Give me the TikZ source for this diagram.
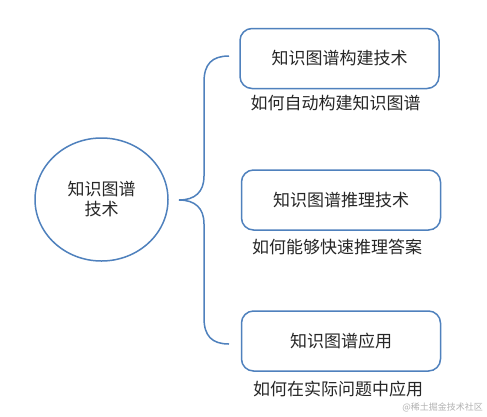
\documentclass[tikz,border=0pt]{standalone}
\usepackage{fontspec}
\usetikzlibrary{shapes.geometric}
\newfontfamily\cjk{Noto Sans CJK SC}
\definecolor{bl}{HTML}{4F81BD}
\definecolor{tx}{HTML}{262626}
\begin{document}
\begin{tikzpicture}[x=1pt,y=-1pt,
  box/.style={draw=bl,line width=1.5pt,rounded corners=12pt,minimum width=199pt,minimum height=60pt,inner sep=0pt,font=\cjk\fontsize{17}{19}\selectfont,text=tx},
  lab/.style={font=\cjk\fontsize{17}{19}\selectfont,text=tx,inner sep=0pt},
  brace/.style={draw=bl,line width=1.5pt}]
\useasboundingbox (0,0) rectangle (487,416);
\fill[white] (0,0) rectangle (487,416);
\node[ellipse,draw=bl,line width=1.5pt,minimum width=133pt,minimum height=123pt,align=center,font=\cjk\fontsize{17}{20}\selectfont,text=tx,inner sep=0pt] (c) at (101.5,199.5) {知识图谱\\技术};
\node[box] (b1) at (339.5,58.5) {知识图谱构建技术};
\node[box] (b2) at (341,200) {知识图谱推理技术};
\node[box] (b3) at (341,341) {知识图谱应用};
\node[lab] (l1) at (335.5,103) {如何自动构建知识图谱};
\node[lab] (l2) at (337,247) {如何能够快速推理答案};
\node[lab] (l3) at (338,389) {如何在实际问题中应用};
\coordinate (t1) at (229,56);
\coordinate (tip) at (179,200);
\coordinate (t3) at (229,344);
\draw[brace] (t1) .. controls (212,56) and (204,64) .. (204,82) -- (204,176)
  .. controls (204,192) and (195,200) .. (tip)
  .. controls (195,200) and (204,208) .. (204,224) -- (204,318)
  .. controls (204,336) and (212,344) .. (t3);
\node[font=\cjk\fontsize{9}{10}\selectfont,text=black!30,anchor=east,inner sep=0pt] (wm) at (483,407) {@稀土掘金技术社区};
\end{tikzpicture}
\end{document}
